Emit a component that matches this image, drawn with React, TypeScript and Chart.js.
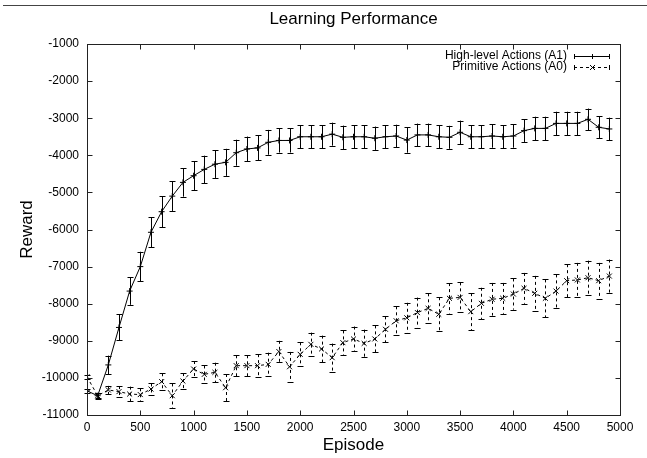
import React, { useEffect, useRef } from "react";
import { Chart, registerables } from "chart.js";

Chart.register(...registerables);

const TITLE = "Learning Performance";
const X_TITLE = "Episode";
const Y_TITLE = "Reward";
const SERIES_LABELS = ["High-level Actions (A1)", "Primitive Actions (A0)"];

const EPISODES = [
  0, 100, 200, 300, 400, 500, 600, 700, 800, 900,
  1000, 1100, 1200, 1300, 1400, 1500, 1600, 1700, 1800, 1900,
  2000, 2100, 2200, 2300, 2400, 2500, 2600, 2700, 2800, 2900,
  3000, 3100, 3200, 3300, 3400, 3500, 3600, 3700, 3800, 3900,
  4000, 4100, 4200, 4300, 4400, 4500, 4600, 4700, 4800, 4900,
];

const A1_REWARD = [
  -10350, -10480, -9650, -8640, -7660, -7000, -6075, -5520, -5100, -4730,
  -4550, -4380, -4240, -4190, -3930, -3830, -3800, -3650, -3600, -3600,
  -3500, -3500, -3500, -3430, -3515, -3500, -3500, -3540, -3500, -3480,
  -3590, -3450, -3450, -3500, -3515, -3380, -3500, -3500, -3480, -3500,
  -3480, -3335, -3275, -3275, -3140, -3140, -3140, -3030, -3245, -3290,
];
const A1_ERR = [
  50, 70, 250, 350, 370, 400, 400, 420, 400, 385,
  385, 370, 370, 365, 350, 335, 335, 335, 325, 325,
  315, 310, 310, 310, 315, 315, 315, 315, 305, 305,
  340, 305, 305, 310, 310, 315, 315, 315, 315, 315,
  315, 305, 315, 315, 315, 315, 315, 290, 300, 305,
];

const A0_REWARD = [
  -9970, -10480, -10325, -10370, -10435, -10450, -10300, -10100, -10480, -10085,
  -9760, -9905, -9850, -10265, -9670, -9670, -9670, -9635, -9290, -9700,
  -9365, -9095, -9220, -9455, -9050, -8950, -9070, -8950, -8690, -8460,
  -8380, -8240, -8125, -8285, -7855, -7830, -8215, -7990, -7880, -7855,
  -7740, -7585, -7720, -7855, -7660, -7380, -7360, -7300, -7380, -7255,
];
const A0_ERR = [
  60, 80, 110, 150, 200, 170, 150, 225, 330, 215,
  215, 240, 260, 370, 280, 280, 310, 315, 290, 400,
  325, 315, 360, 380, 330, 335, 370, 365, 350, 390,
  405, 405, 405, 460, 410, 405, 500, 420, 440, 415,
  420, 415, 470, 510, 450, 445, 460, 460, 480, 445,
];

const X_MIN = 0;
const X_MAX = 5000;
const X_STEP = 500;
const Y_MIN = -11000;
const Y_MAX = -1000;
const Y_STEP = 1000;

const FONT = "'Liberation Sans', Arial, Helvetica, sans-serif";
const INK = "#000000";
const DASH = [3, 3];

const errorBarPlugin = {
  id: "errorBars",
  afterDatasetsDraw(chart: any) {
    const { ctx } = chart;
    const xs = chart.scales.x;
    const ys = chart.scales.y;
    chart.data.datasets.forEach((ds: any) => {
      const errs: number[] = ds.errors || [];
      ctx.save();
      ctx.strokeStyle = INK;
      ctx.lineWidth = 1;
      ctx.setLineDash(ds.borderDash || []);
      ds.data.forEach((p: any, i: number) => {
        const e = errs[i];
        if (e == null) return;
        const px = Math.round(xs.getPixelForValue(p.x)) + 0.5;
        const top = ys.getPixelForValue(p.y + e);
        const bot = ys.getPixelForValue(p.y - e);
        ctx.beginPath();
        ctx.moveTo(px, top);
        ctx.lineTo(px, bot);
        ctx.stroke();
        ctx.setLineDash([]);
        ctx.beginPath();
        ctx.moveTo(px - 3, Math.round(top) + 0.5);
        ctx.lineTo(px + 3, Math.round(top) + 0.5);
        ctx.moveTo(px - 3, Math.round(bot) + 0.5);
        ctx.lineTo(px + 3, Math.round(bot) + 0.5);
        ctx.stroke();
        ctx.setLineDash(ds.borderDash || []);
      });
      ctx.restore();
    });
  },
};

const framePlugin = {
  id: "frame",
  afterDraw(chart: any) {
    const { ctx, chartArea: a } = chart;
    const xs = chart.scales.x;
    const ys = chart.scales.y;
    const L = Math.round(a.left) + 0.5;
    const R = Math.round(a.right) + 0.5;
    const T = Math.round(a.top) + 0.5;
    const B = Math.round(a.bottom) + 0.5;
    ctx.save();
    ctx.strokeStyle = "#222";
    ctx.lineWidth = 1;
    ctx.setLineDash([]);
    ctx.strokeRect(L, T, R - L, B - T);
    const len = 5;
    ctx.beginPath();
    xs.ticks.forEach((t: any) => {
      const px = Math.round(xs.getPixelForValue(t.value)) + 0.5;
      ctx.moveTo(px, B);
      ctx.lineTo(px, B - len);
      ctx.moveTo(px, T);
      ctx.lineTo(px, T + len);
    });
    ys.ticks.forEach((t: any) => {
      const py = Math.round(ys.getPixelForValue(t.value)) + 0.5;
      ctx.moveTo(L, py);
      ctx.lineTo(L + len, py);
      ctx.moveTo(R, py);
      ctx.lineTo(R - len, py);
    });
    ctx.stroke();
    ctx.restore();
  },
};

const legendPlugin = {
  id: "customLegend",
  afterDraw(chart: any) {
    const { ctx, chartArea: a } = chart;
    const textRight = a.right - 53;
    const sx0 = a.right - 46;
    const sx1 = a.right - 11;
    const rows = [a.top + 12, a.top + 23];
    ctx.save();
    ctx.font = "12px " + FONT;
    ctx.fillStyle = INK;
    ctx.textAlign = "right";
    ctx.textBaseline = "middle";
    chart.data.datasets.forEach((ds: any, i: number) => {
      const y = rows[i];
      ctx.fillText(ds.label, textRight, y);
      const yy = Math.round(y) + 0.5;
      ctx.strokeStyle = INK;
      ctx.lineWidth = 1;
      ctx.setLineDash(ds.borderDash || []);
      ctx.beginPath();
      ctx.moveTo(sx0, yy);
      ctx.lineTo(sx1, yy);
      ctx.stroke();
      ctx.setLineDash([]);
      ctx.beginPath();
      ctx.moveTo(Math.round(sx0) + 0.5, yy - 2.5);
      ctx.lineTo(Math.round(sx0) + 0.5, yy + 2.5);
      ctx.moveTo(Math.round(sx1) + 0.5, yy - 2.5);
      ctx.lineTo(Math.round(sx1) + 0.5, yy + 2.5);
      ctx.stroke();
      const mx = Math.round((sx0 + sx1) / 2) + 0.5;
      const r = 2.5;
      ctx.beginPath();
      if (ds.pointStyle === "crossRot") {
        ctx.moveTo(mx - r, yy - r);
        ctx.lineTo(mx + r, yy + r);
        ctx.moveTo(mx - r, yy + r);
        ctx.lineTo(mx + r, yy - r);
      } else {
        ctx.moveTo(mx, yy - r);
        ctx.lineTo(mx, yy + r);
      }
      ctx.stroke();
    });
    ctx.restore();
  },
};

function toPoints(xs: number[], ys: number[]) {
  return xs.map((x, i) => ({ x, y: ys[i] }));
}

const plainTick = (v: any) => String(v);

export default function App() {
  const ref = useRef<HTMLCanvasElement | null>(null);

  useEffect(() => {
    if (!ref.current) return;
    const chart = new Chart(ref.current, {
      type: "line",
      data: {
        datasets: [
          {
            label: SERIES_LABELS[0],
            data: toPoints(EPISODES, A1_REWARD),
            errors: A1_ERR,
            borderColor: INK,
            backgroundColor: INK,
            borderWidth: 1,
            pointStyle: "cross",
            pointRadius: 3,
            pointBorderWidth: 1,
            pointBorderColor: INK,
            tension: 0,
            fill: false,
          } as any,
          {
            label: SERIES_LABELS[1],
            data: toPoints(EPISODES, A0_REWARD),
            errors: A0_ERR,
            borderColor: INK,
            backgroundColor: INK,
            borderWidth: 1,
            borderDash: DASH,
            pointStyle: "crossRot",
            pointRadius: 3.5,
            pointBorderWidth: 1,
            pointBorderColor: INK,
            tension: 0,
            fill: false,
          } as any,
        ],
      },
      options: {
        responsive: false,
        animation: false,
        events: [],
        layout: { padding: { left: 0, right: 27, top: 0, bottom: 0 } },
        plugins: {
          legend: { display: false },
          tooltip: { enabled: false },
          title: {
            display: true,
            text: TITLE,
            fullSize: false,
            color: INK,
            font: { family: FONT, size: 17, weight: "normal" },
            padding: { top: 9, bottom: 14.6 },
          },
        },
        scales: {
          x: {
            type: "linear",
            min: X_MIN,
            max: X_MAX,
            grid: { display: false, drawTicks: false, tickLength: 0 },
            border: { display: false },
            ticks: {
              stepSize: X_STEP,
              color: INK,
              padding: 5,
              maxRotation: 0,
              font: { family: FONT, size: 12 },
              callback: plainTick,
            },
            title: {
              display: true,
              text: X_TITLE,
              color: INK,
              font: { family: FONT, size: 17 },
              padding: { top: 0, bottom: 2 },
            },
            afterFit: (s: any) => {
              s.height = 43;
            },
          },
          y: {
            type: "linear",
            min: Y_MIN,
            max: Y_MAX,
            grid: { display: false, drawTicks: false, tickLength: 0 },
            border: { display: false },
            ticks: {
              stepSize: Y_STEP,
              color: INK,
              padding: 8,
              font: { family: FONT, size: 12 },
              callback: plainTick,
            },
            title: {
              display: true,
              text: Y_TITLE,
              color: INK,
              font: { family: FONT, size: 17 },
              padding: { top: 17, bottom: 0 },
            },
            afterFit: (s: any) => {
              s.width = 87;
            },
          },
        },
      } as any,
      plugins: [errorBarPlugin, framePlugin, legendPlugin],
    });
    return () => chart.destroy();
  }, []);

  return (
    <div style={{ position: "fixed", left: 0, top: 0, width: 647, height: 458, background: "#fff" }}>
      <div
        style={{
          position: "absolute",
          left: 3,
          top: 5,
          width: 644,
          height: 1,
          background: "#444",
        }}
      />
      <canvas ref={ref} width={647} height={458} style={{ display: "block" }} />
    </div>
  );
}
